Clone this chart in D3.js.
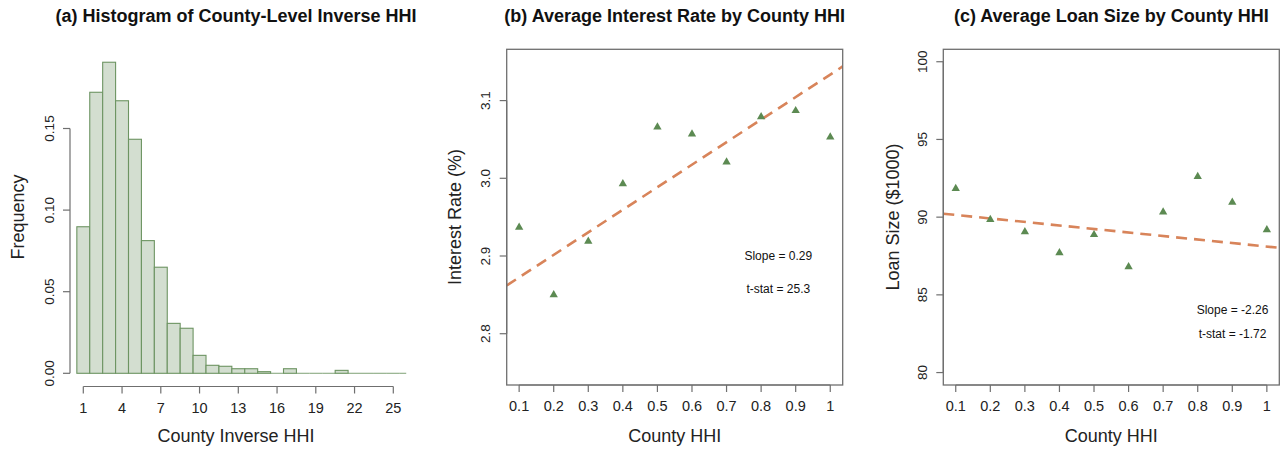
<!DOCTYPE html>
<html>
<head>
<meta charset="utf-8">
<script src="https://cdn.jsdelivr.net/npm/d3@7"></script>
<style>
  html, body { margin: 0; padding: 0; background: #fff; }
  svg { display: block; font-family: "Liberation Sans", Arial, Helvetica, sans-serif; }
</style>
</head>
<body>
<svg id="chart" width="1286" height="449"></svg>
<script>
// ---- data ----
// (a) share of counties by inverse HHI, bins centred on integers
const histBinStarts = [0.5, 1.5, 2.5, 3.5, 4.5, 5.5, 6.5, 7.5, 8.5, 9.5, 10.5, 11.5, 12.5,
                       13.5, 14.5, 15.5, 16.5, 17.5, 18.5, 19.5, 20.5, 21.5, 22.5, 23.5, 24.5, 25.5];
const histBinEnds   = [1.5, 2.5, 3.5, 4.5, 5.5, 6.5, 7.5, 8.5, 9.5, 10.5, 11.5, 12.5, 13.5,
                       14.5, 15.5, 16.5, 17.5, 18.5, 19.5, 20.5, 21.5, 22.5, 23.5, 24.5, 25.5, 26];
const histFreq      = [0.0898, 0.1722, 0.1906, 0.1670, 0.1434, 0.0813, 0.0650, 0.0306, 0.0276,
                       0.0110, 0.0049, 0.0043, 0.0028, 0.0028, 0.0010, 0, 0.0028, 0, 0, 0,
                       0.0018, 0, 0, 0, 0, 0];
const histXTicks = [1, 4, 7, 10, 13, 16, 19, 22, 25];
const histYTicks = [0, 0.05, 0.10, 0.15];

// (b), (c) binned scatter by county HHI
const hhiBins = [0.1, 0.2, 0.3, 0.4, 0.5, 0.6, 0.7, 0.8, 0.9, 1.0];
const hhiTickLabels = ["0.1", "0.2", "0.3", "0.4", "0.5", "0.6", "0.7", "0.8", "0.9", "1"];
const interestRate = [2.937, 2.850, 2.919, 2.993, 3.066, 3.057, 3.021, 3.079, 3.087, 3.053];
const loanSize     = [91.84, 89.84, 89.05, 87.71, 88.87, 86.81, 90.33, 92.61, 90.95, 89.18];

const rateFit = { slope: 0.29, intercept: 2.8435 };
const loanFit = { slope: -2.26, intercept: 90.368 };
const rateStats = ["Slope = 0.29", "t-stat = 25.3"];
const loanStats = ["Slope = -2.26", "t-stat = -1.72"];
const rateYTicks = [2.8, 2.9, 3.0, 3.1];
const loanYTicks = [80, 85, 90, 95, 100];

// ---- styling ----
const axisColor = "#6f6f6f";
const barFill = "#d3ded0";
const barStroke = "#6d9462";
const pointColor = "#5c8a52";
const fitColor = "#d8845a";

const svg = d3.select("#chart");

// R-style 4% padding on both ends of a range
function padded(lo, hi) {
  const r = hi - lo;
  return [lo - 0.04 * r, hi + 0.04 * r];
}

function leftAxis(g, y, x0, ticks, fmt) {
  const ax = g.append("g");
  ax.append("line")
    .attr("x1", x0).attr("x2", x0)
    .attr("y1", y(ticks[0])).attr("y2", y(ticks[ticks.length - 1]))
    .attr("stroke", axisColor).attr("stroke-width", 1.2);
  ticks.forEach(t => {
    ax.append("line")
      .attr("x1", x0 - 7).attr("x2", x0)
      .attr("y1", y(t)).attr("y2", y(t))
      .attr("stroke", axisColor).attr("stroke-width", 1.2);
    ax.append("text")
      .attr("transform", `translate(${x0 - 21},${y(t)}) rotate(-90)`)
      .attr("text-anchor", "middle")
      .attr("dominant-baseline", "central")
      .attr("font-size", 13.5)
      .attr("fill", "#222")
      .text(fmt(t));
  });
}

function bottomAxis(g, x, y0, ticks, labels) {
  const ax = g.append("g");
  ax.append("line")
    .attr("x1", x(ticks[0])).attr("x2", x(ticks[ticks.length - 1]))
    .attr("y1", y0).attr("y2", y0)
    .attr("stroke", axisColor).attr("stroke-width", 1.2);
  ticks.forEach((t, i) => {
    ax.append("line")
      .attr("x1", x(t)).attr("x2", x(t))
      .attr("y1", y0).attr("y2", y0 + 7)
      .attr("stroke", axisColor).attr("stroke-width", 1.2);
    ax.append("text")
      .attr("x", x(t)).attr("y", y0 + 21)
      .attr("text-anchor", "middle")
      .attr("dominant-baseline", "central")
      .attr("font-size", 14.5)
      .attr("fill", "#222")
      .text(labels[i]);
  });
}

function titles(g, cx, title, xLabel, yLabelX, yLabel) {
  g.append("text")
    .attr("x", cx).attr("y", 16)
    .attr("text-anchor", "middle").attr("dominant-baseline", "central")
    .attr("font-size", 18).attr("font-weight", "bold").attr("fill", "#111")
    .text(title);
  g.append("text")
    .attr("x", cx).attr("y", 436)
    .attr("text-anchor", "middle").attr("dominant-baseline", "central")
    .attr("font-size", 18).attr("fill", "#222")
    .text(xLabel);
  g.append("text")
    .attr("transform", `translate(${yLabelX},217) rotate(-90)`)
    .attr("text-anchor", "middle").attr("dominant-baseline", "central")
    .attr("font-size", 18).attr("fill", "#222")
    .text(yLabel);
}

// ---- (a) histogram ----
{
  const g = svg.append("g");
  const x = d3.scaleLinear().domain([1, 25]).range([83.3, 393.3]);
  const y = d3.scaleLinear().domain([0, 0.15]).range([373.3, 128.5]);
  const bins = histFreq.map((f, i) => ({ x0: histBinStarts[i], x1: histBinEnds[i], f }));

  g.selectAll("rect.bar")
    .data(bins.filter(d => d.f > 0))
    .join("rect")
    .attr("class", "bar")
    .attr("x", d => x(d.x0))
    .attr("width", d => x(d.x1) - x(d.x0))
    .attr("y", d => y(d.f))
    .attr("height", d => y(0) - y(d.f))
    .attr("fill", barFill)
    .attr("stroke", barStroke)
    .attr("stroke-width", 1.1);

  // empty bins collapse to a flat outline on the baseline
  g.selectAll("line.empty")
    .data(bins.filter(d => d.f === 0))
    .join("line")
    .attr("class", "empty")
    .attr("x1", d => x(d.x0)).attr("x2", d => x(d.x1))
    .attr("y1", y(0)).attr("y2", y(0))
    .attr("stroke", barStroke).attr("stroke-opacity", 0.8)
    .attr("stroke-width", 1.1);

  leftAxis(g, y, 70, histYTicks, d3.format(".2f"));
  bottomAxis(g, x, 386.5, histXTicks, histXTicks.map(String));
  titles(g, 236, "(a) Histogram of County-Level Inverse HHI", "County Inverse HHI", 18, "Frequency");
}

// ---- scatter panels ----
function scatterPanel(opts) {
  const g = svg.append("g");
  const left = opts.left, right = opts.left + 336, top = 49.3, bottom = 385;
  const x = d3.scaleLinear().domain(padded(0.1, 1.0)).range([left, right]);
  const y = d3.scaleLinear().domain(padded(opts.ylim[0], opts.ylim[1])).range([bottom, top]);

  const clipId = "clip-" + opts.id;
  g.append("clipPath").attr("id", clipId)
    .append("rect").attr("x", left).attr("y", top)
    .attr("width", right - left).attr("height", bottom - top);

  // fitted line
  const xd = x.domain();
  g.append("line")
    .attr("clip-path", `url(#${clipId})`)
    .attr("x1", x(xd[0])).attr("y1", y(opts.fit.intercept + opts.fit.slope * xd[0]))
    .attr("x2", x(xd[1])).attr("y2", y(opts.fit.intercept + opts.fit.slope * xd[1]))
    .attr("stroke", fitColor).attr("stroke-width", 2.6)
    .attr("stroke-dasharray", "11,7");

  // binned means
  g.selectAll("path.pt")
    .data(hhiBins.map((h, i) => ({ h, v: opts.values[i] })))
    .join("path")
    .attr("class", "pt")
    .attr("transform", d => `translate(${x(d.h)},${y(d.v)})`)
    .attr("d", d3.symbol(d3.symbolTriangle, 30))
    .attr("fill", pointColor);

  // annotation
  opts.stats.forEach((s, i) => {
    g.append("text")
      .attr("x", opts.statX).attr("y", opts.statY[i])
      .attr("text-anchor", "middle").attr("dominant-baseline", "central")
      .attr("font-size", 12).attr("fill", "#111")
      .text(s);
  });

  // frame
  g.append("rect")
    .attr("x", left).attr("y", top)
    .attr("width", right - left).attr("height", bottom - top)
    .attr("fill", "none").attr("stroke", axisColor).attr("stroke-width", 1.3);

  leftAxis(g, y, left, opts.yTicks, opts.yFmt);
  bottomAxis(g, x, bottom, hhiBins, hhiTickLabels);
  titles(g, (left + right) / 2, opts.title, "County HHI", opts.yLabelX, opts.yLabel);
}

scatterPanel({
  id: "rate", left: 506.7, ylim: [2.75, 3.15], values: interestRate,
  fit: rateFit, stats: rateStats, statX: 778.3, statY: [255.7, 289],
  yTicks: rateYTicks, yFmt: d3.format(".1f"),
  title: "(b) Average Interest Rate by County HHI",
  yLabel: "Interest Rate (%)", yLabelX: 455
});

scatterPanel({
  id: "loan", left: 943.3, ylim: [80, 100], values: loanSize,
  fit: loanFit, stats: loanStats, statX: 1232.5, statY: [310, 334.3],
  yTicks: loanYTicks, yFmt: d3.format("d"),
  title: "(c) Average Loan Size by County HHI",
  yLabel: "Loan Size ($1000)", yLabelX: 893
});
</script>
</body>
</html>
